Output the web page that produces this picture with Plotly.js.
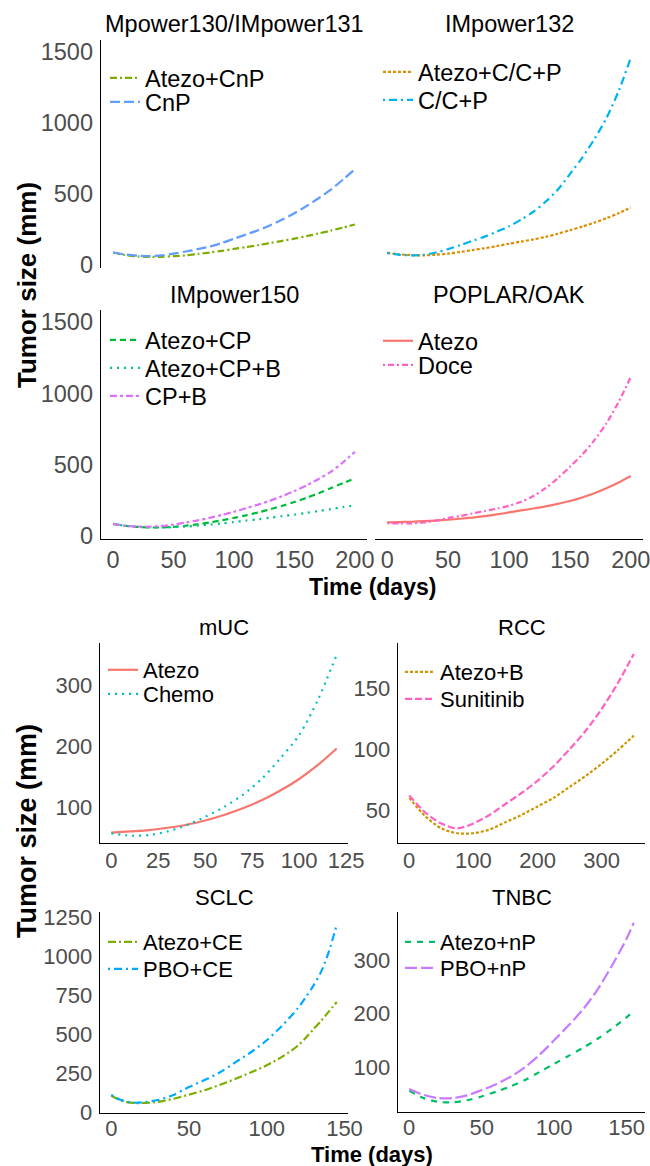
<!DOCTYPE html>
<html>
<head>
<meta charset="utf-8">
<script src="https://cdn.plot.ly/plotly-3.0.1.min.js"></script>
<style>html,body{margin:0;padding:0;background:#fff;}#chart{width:650px;height:1166px;}</style>
</head>
<body>
<div id="chart"></div>
<script>
// ---------------- DATA ----------------
const panelTitles = ["Mpower130/IMpower131", "IMpower132", "IMpower150", "POPLAR/OAK", "mUC", "RCC", "SCLC", "TNBC"];

const daysTop = [0,10,20,30,40,50,60,70,80,90,100,110,120,130,140,150,160,170,180,190,200];
const imp130_atezoCnP = [88,70,61,57,58,62,68,78,88,100,113,126,140,155,170,186,203,222,242,263,285];
const imp130_CnP      = [88,74,66,63,68,80,95,112,130,155,185,215,245,280,320,365,415,470,530,600,675];
const imp132_atezoCCP = [85,75,70,68,72,80,92,105,118,133,150,165,180,198,220,245,270,298,330,365,405];
const imp132_CCP      = [85,72,68,72,88,112,140,170,200,235,272,320,375,445,530,640,755,885,1035,1225,1460];
const imp150_atezoCP  = [85,72,64,60,60,64,72,82,95,110,127,145,165,188,212,238,268,300,335,370,405];
const imp150_atezoCPB = [85,72,64,60,60,62,66,72,80,88,98,108,118,128,140,150,162,175,188,202,216];
const imp150_CPB      = [85,72,66,65,70,80,95,110,128,148,170,195,220,248,280,315,355,400,450,515,590];
const poplar_atezo    = [95,97,100,104,108,114,121,129,139,151,165,179,193,208,225,245,270,300,335,375,420];
const poplar_doce     = [90,88,88,95,108,125,140,158,175,192,212,240,280,335,405,485,570,670,790,940,1115];

const daysMUC = [0,10,20,30,40,50,60,70,80,90,100,110,120];
const muc_atezo = [58,60,62,66,71,78,87,98,111,127,146,169,196];
const muc_chemo = [57,53,54,60,70,84,100,120,146,180,218,276,350];

const daysRCC = [0,25,50,75,100,125,150,175,200,225,250,275,300,325,350];
const rcc_atezoB    = [60,45,35,31,31,34,40,46,53,60,69,78,88,99,111];
const rcc_sunitinib = [62,48,39,35,39,46,55,64,74,86,100,115,133,154,178];

const daysSCLC = [0,5,10,15,20,30,40,50,60,70,80,90,100,110,120,125,130,135,140,145];
const sclc_atezoCE = [105,80,64,58,58,65,85,112,140,175,213,255,300,355,425,475,530,585,645,705];
const sclc_pboCE   = [109,82,66,60,62,77,110,160,205,255,320,385,460,555,665,735,810,900,1030,1200];

const daysTNBC = [0,10,20,30,40,50,60,70,80,90,100,110,120,130,140,150,155];
const tnbc_atezoNP = [56,42,35,34,38,45,54,64,76,91,106,121,136,153,172,193,205];
const tnbc_pboNP   = [59,48,42,42,47,57,68,82,100,123,150,178,208,245,290,340,370];

const ticksTopX = [0,50,100,150,200];
const ticksTopY = [0,500,1000,1500];
const ticksMUCx = [0,25,50,75,100,125];
const ticksMUCy = [100,200,300];
const ticksRCCx = [0,100,200,300];
const ticksRCCy = [50,100,150];
const ticksSCLCx = [0,50,100,150];
const ticksSCLCy = [0,250,500,750,1000,1250];
const ticksTNBCx = [0,50,100,150];
const ticksTNBCy = [100,200,300];

// ---------------- LAYOUT HELPERS ----------------
const W = 650, H = 1166;
const dx = (a, b) => [a / W, b / W];
const dy = (t, b) => [1 - b / H, 1 - t / H];
const FONT = "Liberation Sans, Arial, sans-serif";

const panels = [
  {x:[101,367], y:[40,268],  xr:[-10,210], yr:[-21,1584], xt:ticksTopX, yt:ticksTopY, sx:false, sy:true,  fs:23.5, so:-1, ty:24},
  {x:[375,643], y:[40,268],  xr:[-10,210], yr:[-21,1584], xt:ticksTopX, yt:ticksTopY, sx:false, sy:false, fs:23.5, so:-1, ty:24},
  {x:[101,367], y:[310,539], xr:[-10,210], yr:[-21,1584], xt:ticksTopX, yt:ticksTopY, sx:true,  sy:true,  fs:23.5, so:-1, ty:295},
  {x:[375,643], y:[310,539], xr:[-10,210], yr:[-21,1584], xt:ticksTopX, yt:ticksTopY, sx:true,  sy:false, fs:23.5, so:-1, ty:295},
  {x:[100,348], y:[643,843], xr:[-6,126], yr:[41,369], xt:ticksMUCx, yt:ticksMUCy, sx:true, sy:true, fs:22, so:-3, ty:628},
  {x:[398,645], y:[643,843], xr:[-17.5,367.5], yr:[23,187], xt:ticksRCCx, yt:ticksRCCy, sx:true, sy:true, fs:22, so:-3, ty:628},
  {x:[100,348], y:[912,1113], xr:[-7.25,152.25], yr:[-6,1282], xt:ticksSCLCx, yt:ticksSCLCy, sx:true, sy:true, fs:22, so:-5, ty:897},
  {x:[398,645], y:[912,1112], xr:[-7.75,162.75], yr:[16,390], xt:ticksTNBCx, yt:ticksTNBCy, sx:true, sy:true, fs:22, so:-5, ty:897}
];

// lg = [legend text left px, legend row centre px]
const series = [
  {p:0, name:"Atezo+CnP", x:daysTop, y:imp130_atezoCnP, c:"#7CAE00", d:"7px,3px,2px,3px", lg:[145,75]},
  {p:0, name:"CnP",       x:daysTop, y:imp130_CnP,      c:"#619CFF", d:"10px,4px",        lg:[145,99]},
  {p:1, name:"Atezo+C/C+P", x:daysTop, y:imp132_atezoCCP, c:"#DE8C00", d:"3px,2px",         lg:[418,69]},
  {p:1, name:"C/C+P",       x:daysTop, y:imp132_CCP,      c:"#00B4F0", d:"2px,4px,8px,4px", lg:[418,97]},
  {p:2, name:"Atezo+CP",   x:daysTop, y:imp150_atezoCP,  c:"#00BA38", d:"6px,4px",         lg:[145,337]},
  {p:2, name:"Atezo+CP+B", x:daysTop, y:imp150_atezoCPB, c:"#00C08B", d:"2px,5px",         lg:[145,365]},
  {p:2, name:"CP+B",       x:daysTop, y:imp150_CPB,      c:"#DC71FA", d:"7px,3px,3px,3px", lg:[145,393]},
  {p:3, name:"Atezo", x:daysTop, y:poplar_atezo, c:"#F8766D", d:"solid",           lg:[418,338]},
  {p:3, name:"Doce",  x:daysTop, y:poplar_doce,  c:"#FF61C3", d:"2px,3px,6px,3px", lg:[418,362]},
  {p:4, name:"Atezo", x:daysMUC, y:muc_atezo, c:"#F8766D", d:"solid",   lg:[143,668]},
  {p:4, name:"Chemo", x:daysMUC, y:muc_chemo, c:"#00BFC4", d:"2px,5px", lg:[143,692]},
  {p:5, name:"Atezo+B",   x:daysRCC, y:rcc_atezoB,    c:"#CD9600", d:"3px,2px", lg:[440,670]},
  {p:5, name:"Sunitinib", x:daysRCC, y:rcc_sunitinib, c:"#FF61C3", d:"7px,3px", lg:[440,697]},
  {p:6, name:"Atezo+CE", x:daysSCLC, y:sclc_atezoCE, c:"#7CAE00", d:"8px,3px,2px,3px", lg:[143,940]},
  {p:6, name:"PBO+CE",   x:daysSCLC, y:sclc_pboCE,   c:"#00A9FF", d:"2px,4px,8px,4px", lg:[143,967]},
  {p:7, name:"Atezo+nP", x:daysTNBC, y:tnbc_atezoNP, c:"#00BE67", d:"6px,6px",  lg:[440,940]},
  {p:7, name:"PBO+nP",   x:daysTNBC, y:tnbc_pboNP,   c:"#C77CFF", d:"12px,4px", lg:[440,966]}
];

// ---------------- BUILD ----------------
const layout = {
  width: W, height: H,
  margin: {l:0, r:0, t:0, b:0},
  paper_bgcolor: "#fff", plot_bgcolor: "#fff",
  font: {family: FONT, size: 22, color: "#000"},
  annotations: [], showlegend: true
};

const sfx = k => (k === 1 ? "" : String(k));

panels.forEach((p, i) => {
  const k = i + 1;
  layout["xaxis" + sfx(k)] = {
    domain: dx(p.x[0], p.x[1]), range: p.xr, anchor: "y" + sfx(k),
    showgrid: false, zeroline: false, showline: p.sx, linecolor: "#000", linewidth: 1.3,
    ticks: "", showticklabels: p.sx, tickvals: p.xt, ticklabelstandoff: p.so,
    ticklabeloverflow: "allow",
    tickfont: {family: FONT, size: p.fs, color: "#4D4D4D"}, fixedrange: true
  };
  layout["yaxis" + sfx(k)] = {
    domain: dy(p.y[0], p.y[1]), range: p.yr, anchor: "x" + sfx(k),
    showgrid: false, zeroline: false, showline: p.sy, linecolor: "#000", linewidth: 1.3,
    ticks: "", showticklabels: p.sy, tickvals: p.yt, ticklabelstandoff: 2,
    ticklabeloverflow: "allow",
    tickfont: {family: FONT, size: p.fs, color: "#4D4D4D"}, fixedrange: true
  };
  layout.annotations.push({
    text: panelTitles[i], xref: "paper", yref: "paper",
    x: (p.x[0] + p.x[1]) / 2 / W, y: 1 - p.ty / H,
    xanchor: "center", yanchor: "middle", showarrow: false,
    font: {family: FONT, size: p.fs, color: "#000"}
  });
});

// axis titles
[[285, 26], [831, 27]].forEach(v => {
  layout.annotations.push({
    text: "Tumor size (mm)", xref: "paper", yref: "paper", x: 27 / W, y: 1 - v[0] / H,
    xanchor: "center", yanchor: "middle", textangle: -90, showarrow: false,
    font: {family: FONT, size: v[1], color: "#000", weight: "bold"}
  });
});
[[587, 23], [1154, 22]].forEach(v => {
  layout.annotations.push({
    text: "Time (days)", xref: "paper", yref: "paper", x: 372 / W, y: 1 - v[0] / H,
    xanchor: "center", yanchor: "middle", showarrow: false,
    font: {family: FONT, size: v[1], color: "#000", weight: "bold"}
  });
});

const traces = series.map((s, j) => {
  const k = s.p + 1;
  const lgId = "legend" + sfx(j + 1);
  const fs = panels[s.p].fs;
  layout[lgId] = {
    x: (s.lg[0] - 40) / W, y: 1 - (s.lg[1] - 19) / H, xanchor: "left", yanchor: "top",
    bgcolor: "rgba(0,0,0,0)", borderwidth: 0,
    font: {family: FONT, size: fs, color: "#000"}
  };
  return {
    type: "scatter", mode: "lines", name: s.name, x: s.x, y: s.y,
    xaxis: "x" + sfx(k), yaxis: "y" + sfx(k),
    legend: lgId,
    line: {color: s.c, width: 2.2, dash: s.d, shape: "spline", smoothing: 0.8},
    hoverinfo: "skip"
  };
});

Plotly.newPlot("chart", traces, layout, {staticPlot: true});
</script>
</body>
</html>
